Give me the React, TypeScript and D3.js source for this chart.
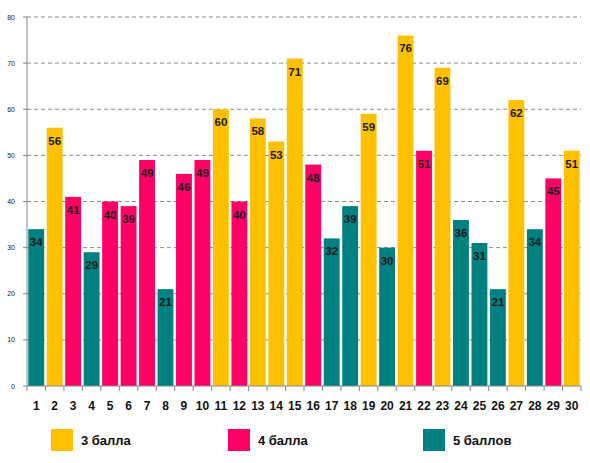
import { useEffect, useRef } from 'react';
import * as d3 from 'd3';

// Chart data
const categories = d3.range(1, 31).map(String);
const values = [34, 56, 41, 29, 40, 39, 49, 21, 46, 49, 60, 40, 58, 53, 71, 48, 32, 39, 59, 30, 76, 51, 69, 36, 31, 21, 62, 34, 45, 51];
const groups = [5, 3, 4, 5, 4, 4, 4, 5, 4, 4, 3, 4, 3, 3, 3, 4, 5, 5, 3, 5, 3, 4, 3, 5, 5, 5, 3, 5, 4, 3];
const legendKeys = [3, 4, 5];
const legendLabels = ['3 балла', '4 балла', '5 баллов'];
const yTicks = [0, 10, 20, 30, 40, 50, 60, 70, 80];

const colors: Record<number, string> = { 3: '#FFC000', 4: '#FF0066', 5: '#008080' };

const App = () => {
  const svgRef = useRef<SVGSVGElement>(null);

  useEffect(() => {
    if (!svgRef.current) return;
    const svg = d3.select(svgRef.current);
    svg.selectAll('*').remove();

    const left = 27;
    const right = 581;
    const top = 17;
    const bottom = 386;

    const x = d3.scaleBand().domain(categories).range([left, right]).paddingInner(0.14).paddingOuter(0.07);
    const y = d3.scaleLinear().domain([0, 80]).range([bottom, top]);

    // gridlines
    svg
      .append('g')
      .selectAll('line')
      .data(yTicks.filter((t) => t > 0))
      .enter()
      .append('line')
      .attr('x1', left)
      .attr('x2', right)
      .attr('y1', (d) => y(d))
      .attr('y2', (d) => y(d))
      .attr('stroke', '#8c8c8c')
      .attr('stroke-width', 1)
      .attr('stroke-dasharray', '4,3');

    // bars
    const data = categories.map((c, i) => ({ c, v: values[i], g: groups[i] }));
    svg
      .append('g')
      .selectAll('rect')
      .data(data)
      .enter()
      .append('rect')
      .attr('x', (d) => x(d.c) || 0)
      .attr('y', (d) => y(d.v))
      .attr('width', x.bandwidth())
      .attr('height', (d) => bottom - y(d.v))
      .attr('fill', (d) => colors[d.g]);

    // value labels
    svg
      .append('g')
      .selectAll('text')
      .data(data)
      .enter()
      .append('text')
      .attr('x', (d) => (x(d.c) || 0) + x.bandwidth() / 2)
      .attr('y', (d) => y(d.v) + 17)
      .attr('text-anchor', 'middle')
      .style('font-family', 'Liberation Sans, Arial, sans-serif')
      .style('font-weight', 'bold')
      .style('font-size', '11.5px')
      .style('fill', '#1c1c1c')
      .text((d) => d.v);

    // y axis
    const yAxis = svg.append('g');
    yAxis
      .append('line')
      .attr('x1', left)
      .attr('x2', left)
      .attr('y1', top)
      .attr('y2', bottom)
      .attr('stroke', '#868686');
    yAxis
      .selectAll('.tick')
      .data(yTicks)
      .enter()
      .append('line')
      .attr('x1', left - 4)
      .attr('x2', left)
      .attr('y1', (d) => y(d))
      .attr('y2', (d) => y(d))
      .attr('stroke', '#868686');
    yAxis
      .selectAll('text')
      .data(yTicks)
      .enter()
      .append('text')
      .attr('x', 15)
      .attr('y', (d) => y(d) + 2.5)
      .attr('text-anchor', 'end')
      .style('font-family', 'Liberation Sans, Arial, sans-serif')
      .style('font-size', '7px')
      .style('fill', '#222')
      .text((d) => d);

    // x axis
    const xAxis = svg.append('g');
    xAxis
      .append('line')
      .attr('x1', left)
      .attr('x2', right)
      .attr('y1', bottom)
      .attr('y2', bottom)
      .attr('stroke', '#868686');
    const step = x.step();
    xAxis
      .selectAll('.tick')
      .data(d3.range(0, categories.length + 1))
      .enter()
      .append('line')
      .attr('x1', (i) => left + i * step)
      .attr('x2', (i) => left + i * step)
      .attr('y1', bottom)
      .attr('y2', bottom + 5)
      .attr('stroke', '#868686');
    xAxis
      .selectAll('text')
      .data(categories)
      .enter()
      .append('text')
      .attr('x', (d) => (x(d) || 0) + x.bandwidth() / 2)
      .attr('y', 410)
      .attr('text-anchor', 'middle')
      .style('font-family', 'Liberation Sans, Arial, sans-serif')
      .style('font-weight', 'bold')
      .style('font-size', '12px')
      .style('fill', '#111')
      .text((d) => d);

    // legend
    const legendX = [51, 228, 423];
    const legend = svg
      .append('g')
      .selectAll('g')
      .data(legendKeys)
      .enter()
      .append('g')
      .attr('transform', (_d, i) => `translate(${legendX[i]},429)`);
    legend
      .append('rect')
      .attr('width', 22)
      .attr('height', 22)
      .attr('fill', (d) => colors[d]);
    legend
      .append('text')
      .attr('x', 30)
      .attr('y', 16)
      .style('font-family', 'Liberation Sans, Arial, sans-serif')
      .style('font-weight', 'bold')
      .style('font-size', '13px')
      .style('fill', '#111')
      .text((_d, i) => legendLabels[i]);
  }, []);

  return (
    <svg
      ref={svgRef}
      width={590}
      height={463}
      style={{ position: 'absolute', left: 0, top: 0, background: '#fff' }}
    />
  );
};

export default App;
